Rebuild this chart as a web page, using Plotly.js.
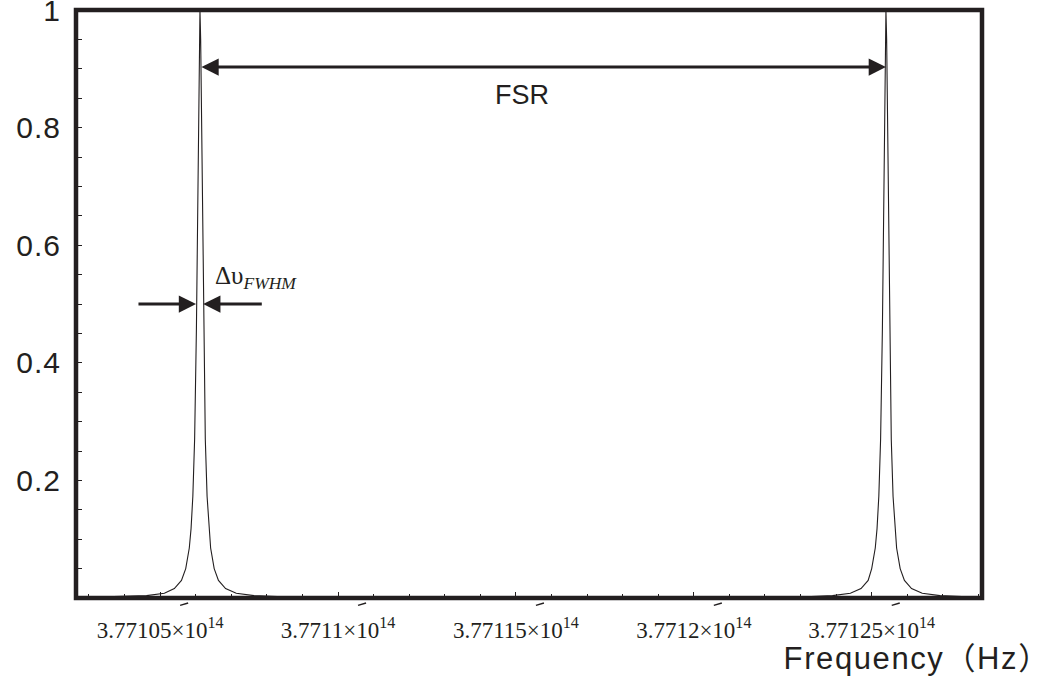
<!DOCTYPE html>
<html>
<head>
<meta charset="utf-8">
<script src="https://cdn.plot.ly/plotly-3.0.1.min.js"></script>
<style>
html,body{margin:0;padding:0;background:#fff;}
#chart{width:1050px;height:680px;}
#chart g.annotation[data-index="5"] text{letter-spacing:1.6px;}
#chart .ytick text{letter-spacing:1px;}
</style>
</head>
<body>
<div id="chart"></div>
<script>
// ---- Data ----
// Transmission spectrum (frequency in Hz, normalized intensity)
const frequency = [
  3.771030e14, 3.771040e14, 3.7710462e14, 3.7710512e14, 3.7710540e14, 3.7710560e14,
  3.7710572e14, 3.7710582e14, 3.7710587e14, 3.7710592e14, 3.7710597e14, 3.7710602e14,
  3.7710605e14, 3.7710608e14, 3.7710610e14, 3.7710612e14, 3.7710614e14, 3.7710616e14,
  3.7710619e14, 3.7710622e14, 3.7710627e14, 3.7710632e14, 3.7710637e14, 3.7710642e14,
  3.7710652e14, 3.7710664e14, 3.7710684e14, 3.7710714e14, 3.7710764e14, 3.7710862e14,
  3.771100e14, 3.771130e14, 3.771160e14, 3.771190e14, 3.771215e14,
  3.771230e14, 3.771239e14, 3.771244e14, 3.771247e14, 3.771249e14, 3.7712500e14,
  3.7712510e14, 3.7712515e14, 3.7712520e14, 3.7712525e14, 3.7712530e14, 3.7712533e14,
  3.7712536e14, 3.7712538e14, 3.7712540e14, 3.7712542e14, 3.7712544e14, 3.7712547e14,
  3.7712550e14, 3.7712555e14, 3.7712560e14, 3.7712565e14, 3.7712570e14, 3.7712580e14,
  3.7712592e14, 3.7712612e14, 3.7712642e14, 3.7712692e14, 3.771280e14
];
const intensity = [
  0.0012, 0.0022, 0.004, 0.008, 0.016, 0.030,
  0.050, 0.085, 0.118, 0.173, 0.27, 0.456,
  0.63, 0.84, 0.95, 1.0, 0.95, 0.84,
  0.63, 0.456, 0.27, 0.173, 0.118, 0.085,
  0.050, 0.030, 0.016, 0.008, 0.004, 0.0015,
  0.0009, 0.0007, 0.0007, 0.0009, 0.0012,
  0.0015, 0.004, 0.008, 0.016, 0.030, 0.050,
  0.085, 0.118, 0.173, 0.27, 0.456, 0.63,
  0.84, 0.95, 1.0, 0.95, 0.84, 0.63,
  0.456, 0.27, 0.173, 0.118, 0.085, 0.050,
  0.030, 0.016, 0.008, 0.004, 0.0013
];
// Resonance peaks (Hz)
const peakFreqs = [3.7710612e14, 3.7712540e14];
// FWHM arrow tips / tails (Hz) and level
const fwhmTips = [3.7710601e14, 3.7710621e14];
const fwhmTails = [3.7710435e14, 3.7710790e14];
const fwhmLevel = 0.5;
const fsrLevel = 0.903;
// Tick labels
const xTickVals = [3.77105e14, 3.7711e14, 3.77115e14, 3.7712e14, 3.77125e14];
const xTickText = ['3.77105×10<sup>14</sup>', '3.7711×10<sup>14</sup>', '3.77115×10<sup>14</sup>', '3.7712×10<sup>14</sup>', '3.77125×10<sup>14</sup>'];
const yTickVals = [0.2, 0.4, 0.6, 0.8, 1];
const yTickText = ['0.2', '0.4', '0.6', '0.8', '1'];
const xTitle = 'Frequency（Hz）';

// ---- Styling ----
const ink = '#231f20';
const sans = 'Liberation Sans, Arial, Noto Sans CJK SC, sans-serif';
const serif = 'Liberation Serif, Times New Roman, serif';

const trace = {
  x: frequency, y: intensity, type: 'scatter', mode: 'lines',
  line: {color: ink, width: 1.1}, hoverinfo: 'skip', showlegend: false
};

const shapes = [{
  type: 'rect', xref: 'paper', yref: 'paper', x0: 0, x1: 1, y0: 0, y1: 1,
  line: {color: ink, width: 4.5}, fillcolor: 'rgba(0,0,0,0)', layer: 'above'
}];
// small slanted marks under tick labels (as in the reference)
const px = 1e9 / 35.54;
xTickVals.forEach(v => {
  shapes.push({type: 'line', xref: 'x', yref: 'paper',
    x0: v + 20 * px, x1: v + 28 * px, y0: -0.0125, y1: -0.0085,
    line: {color: ink, width: 1.5}});
});

const annotations = [
  {x: peakFreqs[1], y: fsrLevel, ax: peakFreqs[0], ay: fsrLevel, axref: 'x', ayref: 'y',
   xref: 'x', yref: 'y', text: '', showarrow: true, arrowhead: 2, arrowside: 'end+start',
   arrowwidth: 3, arrowsize: 1.15, arrowcolor: ink, standoff: 0, startstandoff: 0, font: {size: 1}},
  {x: 3.7711516e14, y: 0.855, xref: 'x', yref: 'y', text: 'FSR', showarrow: false,
   font: {family: sans, size: 27, color: ink}},
  {x: fwhmTips[0], y: fwhmLevel, ax: fwhmTails[0], ay: fwhmLevel, axref: 'x', ayref: 'y',
   xref: 'x', yref: 'y', text: '', showarrow: true, arrowhead: 2,
   arrowwidth: 3, arrowsize: 1.15, arrowcolor: ink, standoff: 0, font: {size: 1}},
  {x: fwhmTips[1], y: fwhmLevel, ax: fwhmTails[1], ay: fwhmLevel, axref: 'x', ayref: 'y',
   xref: 'x', yref: 'y', text: '', showarrow: true, arrowhead: 2,
   arrowwidth: 3, arrowsize: 1.15, arrowcolor: ink, standoff: 0, font: {size: 1}},
  {x: 3.7710650e14, y: 0.545, xref: 'x', yref: 'y', xanchor: 'left', yanchor: 'middle',
   text: 'Δυ<sub><i>FWHM</i></sub>', showarrow: false,
   font: {family: serif, size: 25, color: ink}},
  {x: 1.066, y: -0.103, xref: 'paper', yref: 'paper', xanchor: 'right', yanchor: 'middle',
   text: xTitle, showarrow: false, font: {family: sans, size: 31, color: ink}}
];

const layout = {
  width: 1050, height: 680,
  margin: {l: 76, r: 68, t: 10, b: 82, pad: 0},
  paper_bgcolor: '#fff', plot_bgcolor: '#fff',
  showlegend: false,
  xaxis: {
    range: [3.77102636e14, 3.771281e14],
    tickmode: 'array', tickvals: xTickVals, ticktext: xTickText,
    ticks: 'inside', ticklen: 6, tickwidth: 1, tickcolor: ink,
    minor: {tickmode: 'linear', tick0: 3.77105e14, dtick: 1e9, ticks: 'inside', ticklen: 4, tickwidth: 1, tickcolor: ink},
    showgrid: false, zeroline: false, showline: false,
    tickfont: {family: serif, size: 23, color: ink},
    ticklabelstandoff: 16, ticklabeloverflow: 'allow'
  },
  yaxis: {
    range: [0, 1],
    tickmode: 'array', tickvals: yTickVals, ticktext: yTickText,
    ticks: 'inside', ticklen: 6, tickwidth: 1, tickcolor: ink,
    minor: {tickmode: 'linear', tick0: 0, dtick: 0.05, ticks: 'inside', ticklen: 6, tickwidth: 1, tickcolor: ink},
    showgrid: false, zeroline: false, showline: false,
    tickfont: {family: sans, size: 30, color: ink},
    ticklabelstandoff: 14, ticklabeloverflow: 'allow'
  },
  shapes: shapes,
  annotations: annotations
};

Plotly.newPlot('chart', [trace], layout, {staticPlot: true, displayModeBar: false});
</script>
</body>
</html>
